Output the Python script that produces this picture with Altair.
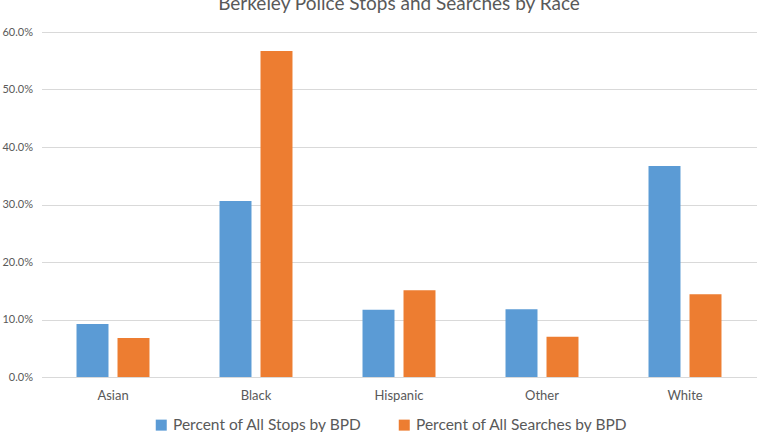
import altair as alt
import pandas as pd

categories = ["Asian", "Black", "Hispanic", "Other", "White"]
series_names = ["Percent of All Stops by BPD", "Percent of All Searches by BPD"]
stops = [0.092, 0.306, 0.117, 0.118, 0.367]
searches = [0.068, 0.567, 0.151, 0.070, 0.144]

rows = []
for i, c in enumerate(categories):
    rows.append({"Race": c, "Series": series_names[0], "Value": stops[i]})
    rows.append({"Race": c, "Series": series_names[1], "Value": searches[i]})
df = pd.DataFrame(rows)

FONT = "Lato"
GREY = "#595959"

chart = (
    alt.Chart(df)
    .mark_bar()
    .encode(
        x=alt.X(
            "Race:N",
            sort=categories,
            title=None,
            scale=alt.Scale(paddingInner=0, paddingOuter=0),
            axis=alt.Axis(
                labelAngle=0,
                labelFontSize=13,
                labelColor=GREY,
                labelFont=FONT,
                labelPadding=12,
                ticks=False,
                domainColor="#d9d9d9",
                domainWidth=1,
            ),
        ),
        xOffset=alt.XOffset(
            "Series:N",
            sort=series_names,
            scale=alt.Scale(paddingInner=0.22, paddingOuter=0.854),
        ),
        y=alt.Y(
            "Value:Q",
            title=None,
            scale=alt.Scale(domain=[0, 0.6], nice=False),
            axis=alt.Axis(
                format=".1%",
                values=[0, 0.1, 0.2, 0.3, 0.4, 0.5, 0.6],
                labelFontSize=11,
                labelColor=GREY,
                labelFont=FONT,
                labelPadding=9,
                ticks=False,
                domain=False,
                gridColor="#d9d9d9",
                gridWidth=1,
            ),
        ),
        color=alt.Color(
            "Series:N",
            sort=series_names,
            scale=alt.Scale(domain=series_names, range=["#5B9BD5", "#ED7D31"]),
            legend=alt.Legend(
                title=None,
                orient="none",
                legendX=112,
                legendY=385,
                direction="horizontal",
                symbolType="square",
                symbolSize=121,
                symbolStrokeWidth=0,
                labelFontSize=15.5,
                labelFont=FONT,
                labelColor=GREY,
                labelOffset=4,
                columnPadding=34,
                labelLimit=400,
            ),
        ),
    )
    .properties(
        width=715,
        height=345,
        title=alt.TitleParams(
            "Berkeley Police Stops and Searches by Race",
            fontSize=19,
            font=FONT,
            fontWeight="normal",
            color=GREY,
            anchor="middle",
            offset=12,
        ),
        autosize=alt.AutoSizeParams(type="none"),
        padding={"left": 41.5, "top": 32, "right": 11.5, "bottom": 55},
    )
    .configure_view(stroke=None)
)

chart.save("out.html", embed_options={"renderer": "svg", "actions": False})
